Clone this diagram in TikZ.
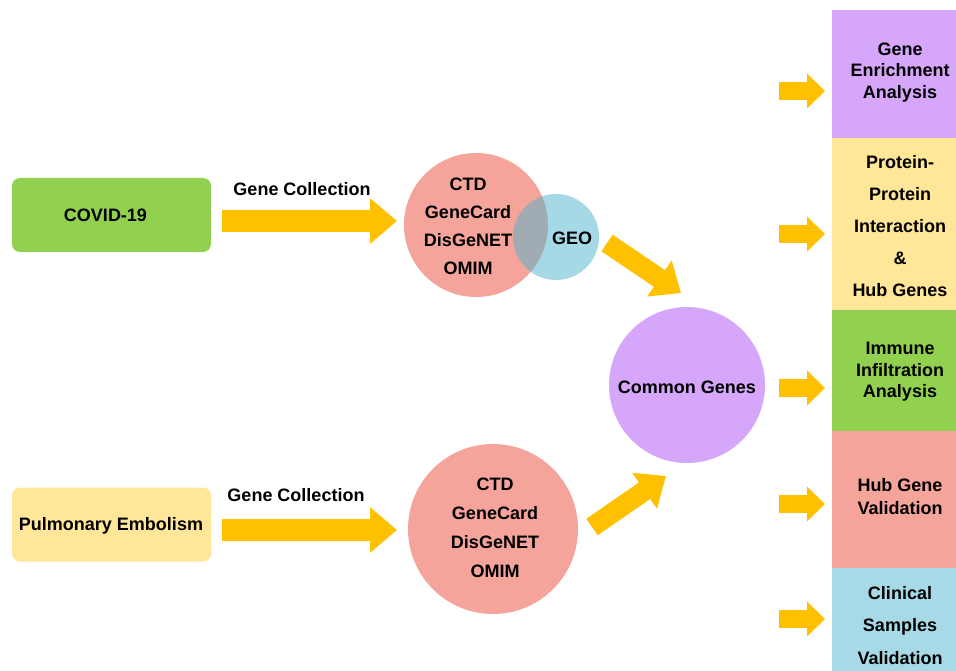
\documentclass[tikz,border=0pt]{standalone}
\usepackage{fontspec}
\setmainfont{Liberation Sans}
\usetikzlibrary{arrows.meta}
\definecolor{cgreen}{RGB}{146,208,80}
\definecolor{cyellow}{RGB}{255,230,153}
\definecolor{csalmon}{RGB}{244,164,154}
\definecolor{cpurple}{RGB}{213,166,250}
\definecolor{cblue}{RGB}{167,217,230}
\definecolor{cgeo}{RGB}{77,179,205}
\definecolor{carrow}{RGB}{255,192,0}
\begin{document}
\begin{tikzpicture}[x=1pt,y=-1pt,
  txt/.style={font=\bfseries\fontsize{18}{21.5}\selectfont, align=center, inner sep=0pt},
  lbox/.style={rectangle, rounded corners=8pt, minimum width=199pt, minimum height=74pt, inner sep=0pt},
  rbox/.style={rectangle, anchor=north west, minimum width=136pt, inner sep=0pt},
  disc/.style={circle, inner sep=0pt},
  bigarrow/.style={draw=carrow, line width=22pt, -{Triangle[length=27pt,width=44pt]}},
  diagarrow/.style={draw=carrow, line width=20pt, -{Triangle[length=26pt,width=42pt]}},
  smallarrow/.style={draw=carrow, line width=18pt, -{Triangle[length=18pt,width=34pt]}}]
\useasboundingbox (0,0) rectangle (956,671);

% left boxes
\node[lbox, fill=cgreen] (covid) at (111.5,215) {};
\node[txt] (covidt) at (105.5,215.5) {COVID-19};
\node[lbox, fill=cyellow] (pe) at (111.5,524.5) {};
\node[txt] (pet) at (111,525.5) {Pulmonary Embolism};

% circles
\node[disc, fill=csalmon, minimum size=144pt] (db1) at (476,225) {};
\node[disc, fill=cgeo, fill opacity=0.5, minimum size=86pt] (geo) at (556,237) {};
\node[txt, font=\bfseries\fontsize{18}{28}\selectfont] (db1t) at (468,226) {CTD\\GeneCard\\DisGeNET\\OMIM};
\node[txt] (geot) at (572,238.5) {GEO};

\node[disc, fill=csalmon, minimum size=170pt] (db2) at (493,529) {};
\node[txt, font=\bfseries\fontsize{18}{29}\selectfont] (db2t) at (495,528) {CTD\\GeneCard\\DisGeNET\\OMIM};

\node[disc, fill=cpurple, minimum size=156pt] (common) at (687,385) {};
\node[txt] (commont) at (687,387.5) {Common Genes};

% gene collection labels
\node[txt] (gc1) at (302,189) {Gene Collection};
\node[txt] (gc2) at (296,495) {Gene Collection};

% right boxes
\node[rbox, fill=cpurple, minimum height=128pt] (r1) at (832,10) {};
\node[rbox, fill=cyellow, minimum height=172pt] (r2) at (832,138) {};
\node[rbox, fill=cgreen, minimum height=121pt] (r3) at (832,310) {};
\node[rbox, fill=csalmon, minimum height=137pt] (r4) at (832,431) {};
\node[rbox, fill=cblue, minimum height=113pt] (r5) at (832,568) {};

\node[txt] (r1t) at (900,72.5) {Gene\\Enrichment\\Analysis};
\node[txt, font=\bfseries\fontsize{18}{32}\selectfont] (r2t) at (900,226.5) {Protein-\\Protein\\Interaction\\\&\\Hub Genes};
\node[txt] (r3t) at (900,372) {Immune\\Infiltration\\Analysis};
\node[txt, font=\bfseries\fontsize{18}{23}\selectfont] (r4t) at (900,496.5) {Hub Gene\\Validation};
\node[txt, font=\bfseries\fontsize{18}{32.5}\selectfont] (r5t) at (900,625.5) {Clinical\\Samples\\Validation};

% arrow end points
\coordinate (a1s) at (222,221);
\coordinate (a1e) at (397,221);
\coordinate (a2s) at (222,530);
\coordinate (a2e) at (397,530);
\coordinate (d1s) at (607,243);
\coordinate (d1e) at (681,293);
\coordinate (d2s) at (592,527);
\coordinate (d2e) at (666,476);

\draw[bigarrow] (a1s) -- (a1e);
\draw[bigarrow] (a2s) -- (a2e);
\draw[diagarrow] (d1s) -- (d1e);
\draw[diagarrow] (d2s) -- (d2e);

\foreach \n/\yy in {1/91,2/234,3/388,4/504,5/619}{
  \coordinate (s\n s) at (779,\yy);
  \coordinate (s\n e) at (825,\yy);
  \draw[smallarrow] (s\n s) -- (s\n e);
}
\end{tikzpicture}
\end{document}
